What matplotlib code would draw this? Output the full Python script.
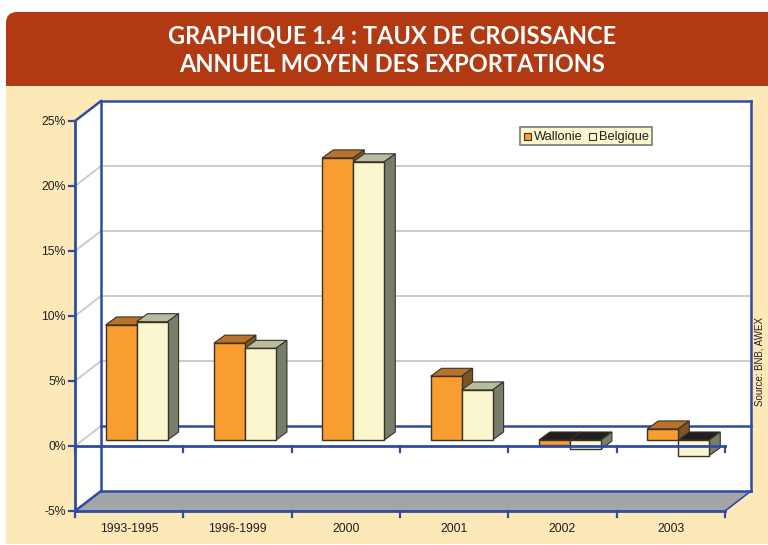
import matplotlib
matplotlib.use('Agg')
import matplotlib.pyplot as plt
from matplotlib.patches import Polygon, Rectangle, FancyBboxPatch

# Data
categories = ['1993-1995', '1996-1999', '2000', '2001', '2002', '2003']
wallonie = [8.85, 7.45, 21.7, 4.9, -0.4, 0.85]
belgique = [9.1, 7.05, 21.4, 3.85, -0.7, -1.2]
y_ticks = [-5, 0, 5, 10, 15, 20, 25]

W, H = 768, 545
BLUE = '#2F4BA3'
GRID = '#CBCBCB'
CREAM = '#FDE8B8'
DARK = '#231F20'

fig = plt.figure(figsize=(W / 100, H / 100), dpi=100, facecolor='white')

# page background, full figure in pixels
bg = fig.add_axes([0, 0, 1, 1])
bg.set_xlim(0, W)
bg.set_ylim(H, 0)
bg.axis('off')
bg.add_patch(FancyBboxPatch((6, 12), W + 30, 90, boxstyle='round,pad=0,rounding_size=11',
                            fc='#B23A12', ec='none'))
bg.add_patch(Rectangle((6, 86), W - 6, 458, fc=CREAM, ec='none'))
bg.text(392, 36, 'GRAPHIQUE 1.4 : TAUX DE CROISSANCE', color='white', fontsize=17,
        family='Lato', weight='bold', ha='center', va='center')
bg.text(392, 65, 'ANNUEL MOYEN DES EXPORTATIONS', color='white', fontsize=17,
        family='Lato', weight='bold', ha='center', va='center')

# chart axes: front plane of the 3D box, x in category slots, y in percent
ax = fig.add_axes([75 / W, 1 - 511 / H, 650 / W, 390 / H])
ax.patch.set_alpha(0)
ax.set_xlim(0, len(categories))
ax.set_ylim(-5, 25)
for s in ax.spines.values():
    s.set_visible(False)
ax.set_xticks([])
ax.set_yticks([])

n = len(categories)
# box depth in data units (26 px across, 20 px up)
dx = 26 / (650 / n)
dy = 20 / 13
# bars sit a bit behind the front plane, with a shallower depth
by = 6 / 13
bdx = 11 / (650 / n)
bdy = 8 / 13
bar_w = 31 / (650 / n)
bar_x0 = 30.6 / (650 / n)


def poly(pts, fc, ec='none', lw=0, z=1):
    ax.add_patch(Polygon(pts, closed=True, fc=fc, ec=ec, lw=lw, zorder=z, clip_on=False))


def line(xs, ys, color=BLUE, lw=2.0, z=2):
    ax.plot(xs, ys, color=color, lw=lw, zorder=z, clip_on=False, solid_capstyle='projecting')


# walls
poly([(0, -5), (dx, -5 + dy), (dx, 25 + dy), (0, 25)], 'white')
poly([(dx, -5 + dy), (n + dx, -5 + dy), (n + dx, 25 + dy), (dx, 25 + dy)], 'white')
poly([(0, -5), (n, -5), (n + dx, -5 + dy), (dx, -5 + dy)], '#A4A5A8')

# grid lines on the back and side walls
for t in y_ticks[2:-1]:
    line([0, dx, n + dx], [t, t + dy, t + dy], GRID, 1.4)
line([0, dx], [0, dy], GRID, 1.4)
line([dx, n + dx], [dy, dy], BLUE, 1.8)

# box outline
line([dx, dx], [-5 + dy, 25 + dy], BLUE, 1.8)
line([n + dx, n + dx], [-5 + dy, 25 + dy], BLUE, 1.8)
line([dx, n + dx], [25 + dy, 25 + dy], BLUE, 1.8)
line([dx, n + dx], [-5 + dy, -5 + dy], BLUE, 1.8)
line([0, dx], [25, 25 + dy], BLUE, 1.8)
line([0, dx], [-5, -5 + dy], BLUE, 1.8)
line([n, n + dx], [-5, -5 + dy], BLUE, 1.2)


def draw_bar(left, val, front, top, side, z):
    base = by
    tip = val + by
    hi = max(base, tip)
    lo = min(base, tip)
    # front face through the axes scale
    ax.bar(left, val, bottom=base, width=bar_w, align='edge', color=front,
           edgecolor='#3A3226', linewidth=1.0, zorder=z + 0.2, clip_on=False)
    poly([(left, hi), (left + bdx, hi + bdy), (left + bar_w + bdx, hi + bdy), (left + bar_w, hi)],
         top, '#3A3226', 0.8, z)
    poly([(left + bar_w, lo), (left + bar_w + bdx, lo + bdy), (left + bar_w + bdx, hi + bdy),
          (left + bar_w, hi)], side, '#3A3226', 0.8, z)


for i in range(n):
    x0 = i + bar_x0
    # the cream bar hides the orange side, except 2003 where it hangs below zero
    z_w, z_b = (5, 4) if wallonie[i] >= 0 > belgique[i] else (4, 5)
    draw_bar(x0, wallonie[i], '#F99D31', '#B8722A' if wallonie[i] >= 0 else DARK, '#7E5522', z_w)
    draw_bar(x0 + bar_w, belgique[i], '#FAF7CF', '#B9BC9F' if belgique[i] >= 0 else DARK, '#777D6B', z_b)

# front axes, over the bars
line([0, 0], [-5, 25], BLUE, 2.0, 8)
line([0, n], [-5, -5], BLUE, 2.0, 8)
line([0, n], [0, 0], BLUE, 2.0, 8)
for i in range(n + 1):
    line([i, i], [-5, -5 - 6 / 13], BLUE, 1.6, 8)
    line([i, i], [0, -6 / 13], BLUE, 1.6, 8)
for t in y_ticks:
    ax.plot([-6 / (650 / n), 0], [t, t], color=BLUE, lw=1.6, zorder=8, clip_on=False)
    ax.text(-9 / (650 / n), t - 1 / 13, f'{t}%', ha='right', va='center', fontsize=8.8,
            family='Liberation Sans', color='#231F20', clip_on=False)
for i, c in enumerate(categories):
    ax.text(i + 0.5, -5 - 18 / 13, c, ha='center', va='center', fontsize=8.8,
            family='Liberation Sans', color='#231F20', clip_on=False)

# legend and source in pixels
bg2 = fig.add_axes([0, 0, 1, 1])
bg2.set_xlim(0, W)
bg2.set_ylim(H, 0)
bg2.axis('off')
bg2.patch.set_alpha(0)
bg2.add_patch(Rectangle((519.5, 127), 132, 17.5, fc='#FAF7CF', ec='#7A7A70', lw=1.2))
bg2.add_patch(Rectangle((523.5, 132.5), 7.5, 7.5, fc='#F99D31', ec='#3A3226', lw=0.8))
bg2.add_patch(Rectangle((588.5, 132.5), 7.5, 7.5, fc='#FAF7CF', ec='#3A3226', lw=0.8))
bg2.text(534, 137, 'Wallonie', fontsize=9.3, family='Liberation Sans', color='#231F20', va='center')
bg2.text(599, 137, 'Belgique', fontsize=9.3, family='Liberation Sans', color='#231F20', va='center')
bg2.text(759, 361, 'Source: BNB, AWEX', rotation=90, fontsize=7, family='Liberation Sans',
         color='#231F20', ha='center', va='center')

fig.savefig('out.png', dpi=100)
